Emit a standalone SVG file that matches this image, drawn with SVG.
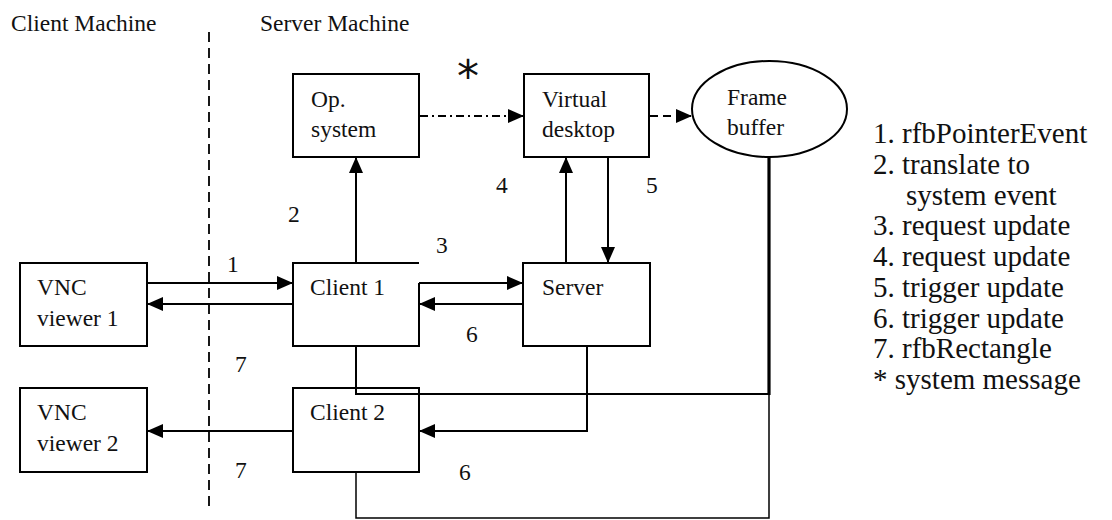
<svg xmlns="http://www.w3.org/2000/svg" width="1112" height="520" viewBox="0 0 1112 520">
<defs>
<style>
text{font-family:"Liberation Serif","Times New Roman",serif;font-size:23.5px;fill:#111}
.legend text{font-size:29px}
.box{fill:#fff;stroke:#000;stroke-width:2}
.ln{fill:none;stroke:#000;stroke-width:2}
.thin{fill:none;stroke:#000;stroke-width:1.5}
.thick{fill:none;stroke:#000;stroke-width:3.2}
</style>
<marker id="ah" markerUnits="userSpaceOnUse" markerWidth="16" markerHeight="14" refX="15" refY="7" orient="auto">
<path d="M0,0 L16,7 L0,14 Z" fill="#000"/>
</marker>
</defs>
<rect width="1112" height="520" fill="#fff"/>

<g id="headers">
<text x="11" y="31">Client Machine</text>
<text x="260" y="31">Server Machine</text>
<line x1="209" y1="32" x2="209" y2="508" stroke="#000" stroke-width="1.8" stroke-dasharray="10 6"/>
</g>

<g id="connectors">
<line class="ln" x1="356" y1="263" x2="356" y2="158" marker-end="url(#ah)"/>
<line class="ln" x1="420" y1="116" x2="523" y2="116" stroke-dasharray="8 4 2 4" marker-end="url(#ah)"/>
<line class="ln" x1="650" y1="116" x2="691" y2="116" stroke-dasharray="8 5" marker-end="url(#ah)"/>
<line class="ln" x1="566" y1="263" x2="566" y2="158" marker-end="url(#ah)"/>
<line class="ln" x1="608" y1="158" x2="608" y2="262" marker-end="url(#ah)"/>
<line class="ln" x1="148" y1="283" x2="292" y2="283" marker-end="url(#ah)"/>
<line class="ln" x1="293" y1="304" x2="148" y2="304" marker-end="url(#ah)"/>
<line class="ln" x1="419" y1="283" x2="522" y2="283" marker-end="url(#ah)"/>
<line class="ln" x1="523" y1="304" x2="420" y2="304" marker-end="url(#ah)"/>
<polyline class="ln" points="356,346 356,394 769,394"/>
<line class="thick" x1="769" y1="157" x2="769" y2="395"/>
<polyline class="thin" points="769,394 769,518 356,518 356,472"/>
<polyline class="ln" points="587,346 587,431 420,431" marker-end="url(#ah)"/>
<line class="ln" x1="293" y1="431" x2="148" y2="431" marker-end="url(#ah)"/>
</g>

<g id="op-system">
<rect class="box" x="293" y="74" width="126" height="83"/>
<text x="311" y="107">Op.</text>
<text x="311" y="137">system</text>
</g>
<g id="virtual-desktop">
<rect class="box" x="524" y="74" width="125" height="83"/>
<text x="542" y="107">Virtual</text>
<text x="542" y="137">desktop</text>
</g>
<g id="frame-buffer">
<ellipse cx="769.5" cy="109" rx="77.5" ry="48" fill="#fff" stroke="#000" stroke-width="2"/>
<text x="727" y="105">Frame</text>
<text x="727" y="135">buffer</text>
</g>
<g id="vnc-viewer-1">
<rect class="box" x="20" y="263" width="127" height="83"/>
<text x="37" y="295">VNC</text>
<text x="37" y="326">viewer 1</text>
</g>
<g id="client-1">
<path class="box" d="M419,263 H293 V346 H419 V283"/>
<text x="310" y="295">Client 1</text>
</g>
<g id="server">
<rect class="box" x="523" y="263" width="127" height="83"/>
<text x="542" y="295">Server</text>
</g>
<g id="vnc-viewer-2">
<rect class="box" x="20" y="388" width="127" height="84"/>
<text x="37" y="420">VNC</text>
<text x="37" y="451">viewer 2</text>
</g>
<g id="client-2">
<rect class="box" x="293" y="388" width="126" height="84" style="fill:none"/>
<text x="310" y="420">Client 2</text>
</g>

<g id="labels">
<text x="457" y="92" style="font-family:'DejaVu Sans',sans-serif;font-size:44px">*</text>
<text x="227" y="272">1</text>
<text x="288" y="222">2</text>
<text x="436" y="253">3</text>
<text x="496" y="193">4</text>
<text x="646" y="193">5</text>
<text x="466" y="342">6</text>
<text x="459" y="480">6</text>
<text x="235" y="372">7</text>
<text x="235" y="478">7</text>
</g>

<g id="legend" class="legend">
<text x="873" y="143">1. rfbPointerEvent</text>
<text x="873" y="174">2. translate to</text>
<text x="906" y="204.5">system event</text>
<text x="873" y="235">3. request update</text>
<text x="873" y="266">4. request update</text>
<text x="873" y="297">5. trigger update</text>
<text x="873" y="327.5">6. trigger update</text>
<text x="873" y="358">7. rfbRectangle</text>
<text x="873" y="389">* system message</text>
</g>
</svg>
